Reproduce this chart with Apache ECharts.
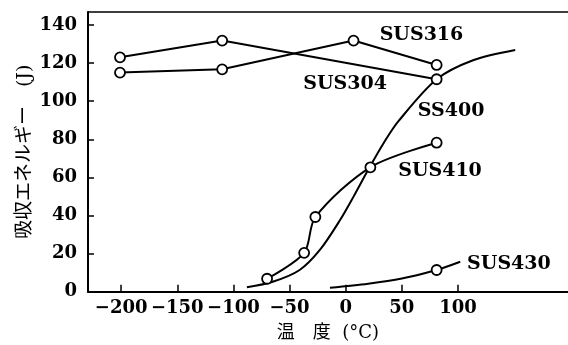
<!DOCTYPE html>
<html>
<head>
<meta charset="utf-8">
<script src="https://cdn.jsdelivr.net/npm/echarts@6/dist/echarts.min.js"></script>
<style>
html,body{margin:0;padding:0;background:#fff;}
#c{width:568px;height:345px;}
</style>
</head>
<body>
<div id="c"></div>
<script>
// ---- data ----
const xTicks = [-200, -150, -100, -50, 0, 50, 100];
const yTicks = [0, 20, 40, 60, 80, 100, 120, 140];

const sus316X = [-201, -110, 7, 81];
const sus316Y = [115, 116.7, 131.8, 119];

const sus304X = [-201, -110, 81];
const sus304Y = [123, 131.8, 111.5];

const sus410X = [-70, -37, -27, 22, 81];
const sus410Y = [6.8, 20.4, 39.2, 65.3, 78.2];

const ss400X = [-88, -65, -41, -23, -5, 7, 21, 34, 47, 81, 114, 151];
const ss400Y = [2.3, 5.2, 11.4, 21.9, 37.6, 49.9, 65.0, 78.2, 89.5, 111.5, 121.6, 126.9];

const sus430X = [-14, 20, 50, 81, 102];
const sus430Y = [2.1, 4.2, 6.9, 11.4, 15.7];
const sus430MeasX = [81];
const sus430MeasY = [11.4];

const seriesNames = ['SUS316', 'SUS304', 'SS400', 'SUS410', 'SUS430'];
const xName = '温　度  (°C)';
const yName = '吸収エネルギー　(J)';

// ---- chart ----
const zip = (xs, ys) => xs.map((x, i) => [x, ys[i]]);
const numFont = 'DejaVu Serif';
const cjkFont = '"DejaVu Serif", "Noto Sans CJK JP"';

const markerStyle = { color: '#fff', borderColor: '#000', borderWidth: 1.8, opacity: 1 };
const lineStyle = { color: '#000', width: 2 };

function tag(name, coord) {
  return {
    symbol: 'circle', symbolSize: 0, silent: true,
    label: { show: true, position: 'inside', color: '#000', fontFamily: numFont,
             fontWeight: 'bold', fontSize: 19, formatter: name },
    data: [{ coord: coord, value: name }]
  };
}

const chart = echarts.init(document.getElementById('c'), null, { renderer: 'canvas' });
chart.setOption({
  backgroundColor: '#fff',
  animation: false,
  grid: { left: 88, right: 0, top: 12, bottom: 53.3, containLabel: false, outerBoundsMode: 'none' },
  xAxis: [{
    type: 'value', min: -229.5, max: 198, position: 'bottom',
    axisLine: { show: true, onZero: false, lineStyle: { color: '#000', width: 2 } },
    axisTick: { show: true, inside: true, length: 7, customValues: xTicks, lineStyle: { color: '#000', width: 1.5 } },
    axisLabel: { show: true, customValues: xTicks, margin: 8, color: '#000', fontFamily: numFont,
                 fontWeight: 'bold', fontSize: 18,
                 formatter: v => (v < 0 ? '\u2212' + Math.abs(v) : String(v)) },
    splitLine: { show: false },
    name: xName, nameLocation: 'middle', nameGap: 33, nameMoveOverlap: false,
    nameTextStyle: { color: '#000', fontFamily: cjkFont, fontSize: 18 }
  }, {
    type: 'value', min: -229.5, max: 198, position: 'top',
    axisLine: { show: true, onZero: false, lineStyle: { color: '#000', width: 1.5 } },
    axisTick: { show: false }, axisLabel: { show: false }, splitLine: { show: false }
  }],
  yAxis: [{
    type: 'value', min: 0, max: 146.8,
    axisLine: { show: true, onZero: false, lineStyle: { color: '#000', width: 2 } },
    axisTick: { show: true, inside: true, length: 6, customValues: yTicks, lineStyle: { color: '#000', width: 1.5 } },
    axisLabel: { show: true, customValues: yTicks, margin: 11, color: '#000', fontFamily: numFont,
                 fontWeight: 'bold', fontSize: 18 },
    splitLine: { show: false },
    name: yName, nameLocation: 'middle', nameRotate: 90, nameGap: 53, nameMoveOverlap: false,
    nameTextStyle: { color: '#000', fontFamily: cjkFont, fontSize: 19 }
  }],
  series: [
    { name: seriesNames[0], type: 'line', data: zip(sus316X, sus316Y), symbol: 'circle', symbolSize: 10,
      showAllSymbol: true, itemStyle: markerStyle, lineStyle: lineStyle, z: 3,
      markPoint: tag(seriesNames[0], [67.5, 134.5]) },
    { name: seriesNames[1], type: 'line', data: zip(sus304X, sus304Y), symbol: 'circle', symbolSize: 10,
      showAllSymbol: true, itemStyle: markerStyle, lineStyle: lineStyle, z: 3,
      markPoint: tag(seriesNames[1], [-0.6, 109.0]) },
    { name: seriesNames[2], type: 'line', data: zip(ss400X, ss400Y), symbol: 'none',
      smooth: 0.3, lineStyle: lineStyle, z: 2,
      markPoint: tag(seriesNames[2], [93.8, 94.9]) },
    { name: seriesNames[3], type: 'line', data: zip(sus410X, sus410Y), symbol: 'circle', symbolSize: 10,
      showAllSymbol: true, smooth: 0.3, itemStyle: markerStyle, lineStyle: lineStyle, z: 3,
      markPoint: tag(seriesNames[3], [84.0, 63.4]) },
    { name: seriesNames[4], type: 'line', data: zip(sus430X, sus430Y), symbol: 'none',
      smooth: 0.3, lineStyle: lineStyle, z: 2,
      markPoint: tag(seriesNames[4], [145.4, 14.5]) },
    { name: seriesNames[4] + ' measured', type: 'scatter', data: zip(sus430MeasX, sus430MeasY),
      symbol: 'circle', symbolSize: 10, itemStyle: markerStyle, z: 4 }
  ]
});
</script>
</body>
</html>
